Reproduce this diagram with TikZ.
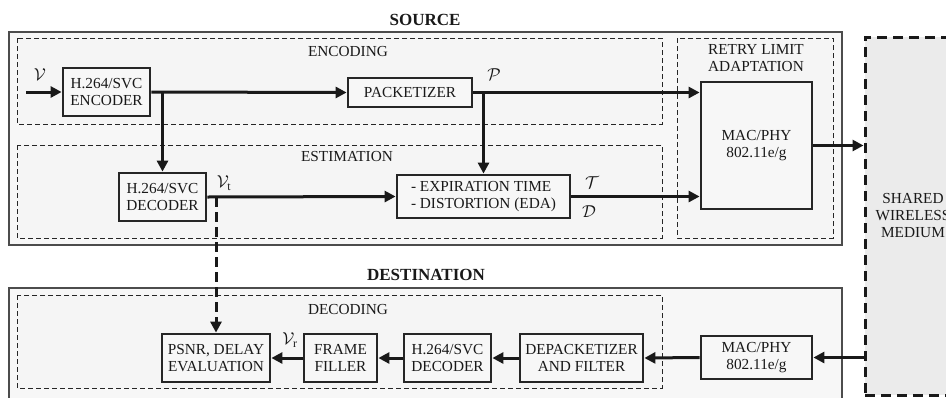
\documentclass[tikz,border=0pt]{standalone}
\usepackage{fontspec}
\setmainfont{Liberation Serif}
\usetikzlibrary{arrows.meta}
\begin{document}
\begin{tikzpicture}[x=1pt,y=-1pt,
  font=\fontsize{15.3}{17}\selectfont,
  blk/.style={draw=black!85, line width=2.8pt, fill=black!3, align=center, inner sep=1pt, text=black!90},
  outer/.style={draw=black!70, line width=1.1pt, fill=black!3},
  region/.style={draw=black!85, line width=0.9pt, dash pattern=on 5pt off 3pt, fill=black!4},
  conn/.style={line width=3pt, draw=black!90, -{Triangle[length=11pt,width=11pt]}},
  dconn/.style={line width=3pt, draw=black!90, dash pattern=on 10pt off 5pt, -{Triangle[length=11pt,width=11pt]}},
  lbl/.style={text=black!90, align=center, inner sep=0pt},
  mlbl/.style={inner sep=0pt, text=black!90, font=\fontsize{17}{19}\selectfont}]
\useasboundingbox (0,0) rectangle (946,397);
\clip (0,0) rectangle (946,397);
\fill[white] (0,0) rectangle (946,397);
% outer boxes
\draw[outer] (9,32) rectangle (842,245);
\draw[outer] (9,288) rectangle (842,420);
% regions
\draw[region] (17,38) rectangle (662,124);
\draw[region] (17,145) rectangle (662,238);
\draw[region] (677,38) rectangle (833,238);
\draw[region] (17,295) rectangle (662,388);
% shared medium
\node[draw=black!90, line width=3pt, dash pattern=on 10pt off 6pt, fill=black!8,
      minimum width=96pt, minimum height=358pt, align=center, text=black!90,
      font=\fontsize{15.3}{17}\selectfont] (shared) at (913,216) {SHARED\\WIRELESS\\MEDIUM};
% titles
\node[lbl, font=\fontsize{17}{19}\selectfont\bfseries] (srct) at (425,20) {SOURCE};
\node[lbl, font=\fontsize{17}{19}\selectfont\bfseries] (dstt) at (426,275) {DESTINATION};
\node[lbl] (enct) at (348,52) {ENCODING};
\node[lbl] (estt) at (347,157) {ESTIMATION};
\node[lbl] (rett) at (756,58) {RETRY LIMIT\\ADAPTATION};
\node[lbl] (dect) at (348,310) {DECODING};
% blocks
\node[blk, minimum width=87pt, minimum height=48pt] (enc) at (106.5,92) {H.264/SVC\\ENCODER};
\node[blk, minimum width=124pt, minimum height=29pt] (pack) at (410,92.5) {PACKETIZER};
\node[blk, minimum width=111pt, minimum height=127pt] (macs) at (756.5,145.5) {MAC/PHY\\802.11e/g};
\node[blk, minimum width=87pt, minimum height=48pt] (decs) at (162.5,197) {H.264/SVC\\DECODER};
\node[blk, minimum width=173pt, minimum height=43pt, align=left] (eda) at (483.5,196.5) {- EXPIRATION TIME\\- DISTORTION (EDA)};
\node[blk, minimum width=108pt, minimum height=48pt] (psnr) at (216,358) {PSNR, DELAY\\EVALUATION};
\node[blk, minimum width=73pt, minimum height=48pt] (ff) at (340.5,358) {FRAME\\FILLER};
\node[blk, minimum width=87pt, minimum height=48pt] (decd) at (447.5,358) {H.264/SVC\\DECODER};
\node[blk, minimum width=123pt, minimum height=48pt] (depack) at (581.5,358) {DEPACKETIZER\\AND FILTER};
\node[blk, minimum width=111pt, minimum height=43pt] (macd) at (756.5,357.5) {MAC/PHY\\802.11e/g};
% math labels
\node[mlbl] (lv) at (40,75) {$\mathcal{V}$};
\node[mlbl] (lp) at (494,75) {$\mathcal{P}$};
\node[mlbl] (lvt) at (224,183) {$\mathcal{V}_{\mathrm{t}}$};
\node[mlbl] (lt) at (592,183) {$\mathcal{T}$};
\node[mlbl] (ld) at (589,212) {$\mathcal{D}$};
\node[mlbl] (lvr) at (290,340) {$\mathcal{V}_{\mathrm{r}}$};
% connectors
\coordinate (vin) at (26,92);
\draw[conn] (vin) -- (enc.west);
\draw[conn] (enc.east) -- (pack.west);
\draw[conn] (enc.east -| decs.north) -- (decs.north);
\draw[conn] (pack.east) -- (pack.east -| macs.west);
\draw[conn] (pack.east -| eda.north) -- (eda.north);
\draw[conn] (decs.east) -- (eda.west);
\draw[conn] (eda.east) -- (eda.east -| macs.west);
\draw[conn] (macs.east) -- (macs.east -| shared.west);
\draw[dconn] (decs.east -| psnr.north) -- (psnr.north);
\draw[conn] (macd.east -| shared.west) -- (macd.east);
\draw[conn] (macd.west) -- (depack.east);
\draw[conn] (depack.west) -- (decd.east);
\draw[conn] (decd.west) -- (ff.east);
\draw[conn] (ff.west) -- (psnr.east);
\end{tikzpicture}
\end{document}
